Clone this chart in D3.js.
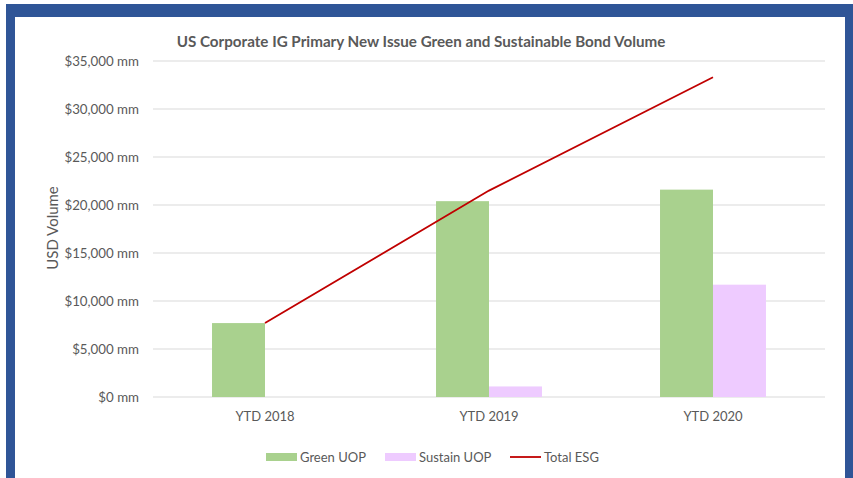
<!DOCTYPE html>
<html>
<head>
<meta charset="UTF-8">
<script src="https://d3js.org/d3.v7.min.js"></script>
<style>
  body { margin: 0; background: #fff; }
  text { font-family: Lato, "Open Sans", sans-serif; fill: #595959; }
</style>
</head>
<body>
<svg id="chart" width="853" height="478"></svg>
<script>
// data
const categories = ["YTD 2018", "YTD 2019", "YTD 2020"];
const seriesNames = ["Green UOP", "Sustain UOP"];
const greenUOP = [7700, 20400, 21600];
const sustainUOP = [0, 1100, 11700];
const totalESG = [7700, 21500, 33300];
const yTicks = [0, 5000, 10000, 15000, 20000, 25000, 30000, 35000];

const colors = { "Green UOP": "#A9D18E", "Sustain UOP": "#EECBFF", "Total ESG": "#C00000" };

const svg = d3.select("#chart");
const W = 853, H = 478;

// blue frame
svg.append("rect").attr("x", 6).attr("y", 4).attr("width", W - 6).attr("height", H)
  .attr("fill", "#2F5597");
svg.append("rect").attr("x", 15).attr("y", 17).attr("width", 830).attr("height", H)
  .attr("fill", "#fff");

const plot = { left: 153, right: 825, top: 61, bottom: 397 };

const x = d3.scaleBand().domain(categories).range([plot.left, plot.right]).padding(0);
const groupW = x.bandwidth() * 0.473;
const xs = d3.scaleBand().domain(seriesNames).range([0, groupW]);
const y = d3.scaleLinear().domain([0, 35000]).range([plot.bottom, plot.top]);

// gridlines
svg.append("g").selectAll("line").data(yTicks).join("line")
  .attr("x1", plot.left).attr("x2", plot.right)
  .attr("y1", d => y(d)).attr("y2", d => y(d))
  .attr("stroke", "#D9D9D9").attr("stroke-width", 1);

// y axis labels
const yAxis = d3.axisLeft(y).tickValues(yTicks).tickSize(0).tickPadding(14)
  .tickFormat(d => "$" + d3.format(",")(d) + " mm");
const gy = svg.append("g").attr("transform", `translate(${plot.left},0)`).call(yAxis);
gy.select(".domain").remove();
gy.selectAll("text").attr("font-size", 13.3).style("font-family", "Lato, sans-serif").attr("fill", "#595959");

// x axis labels
const xAxis = d3.axisBottom(x).tickSize(0).tickPadding(15);
const gx = svg.append("g").attr("transform", `translate(0,${plot.bottom})`).call(xAxis);
gx.select(".domain").remove();
gx.selectAll("text").attr("font-size", 13).style("font-family", "Lato, sans-serif").attr("fill", "#595959");

// bars
const rows = categories.map((c, i) => ({ cat: c, "Green UOP": greenUOP[i], "Sustain UOP": sustainUOP[i] }));
svg.append("g").selectAll("g").data(rows).join("g")
  .attr("transform", d => `translate(${x(d.cat) + (x.bandwidth() - groupW) / 2},0)`)
  .selectAll("rect").data(d => seriesNames.map(s => ({ s, v: d[s] }))).join("rect")
  .attr("x", d => xs(d.s)).attr("width", xs.bandwidth())
  .attr("y", d => y(d.v)).attr("height", d => plot.bottom - y(d.v))
  .attr("fill", d => colors[d.s]);

// total line
const line = d3.line().x((d, i) => x(categories[i]) + x.bandwidth() / 2).y(d => y(d));
svg.append("path").datum(totalESG).attr("d", line)
  .attr("fill", "none").attr("stroke", colors["Total ESG"]).attr("stroke-width", 1.8);

// title
svg.append("text").attr("x", 421).attr("y", 47).attr("text-anchor", "middle")
  .attr("font-size", 15.2).attr("font-weight", "bold")
  .text("US Corporate IG Primary New Issue Green and Sustainable Bond Volume");

// y title
svg.append("text").attr("transform", "translate(58,228) rotate(-90)")
  .attr("text-anchor", "middle").attr("font-size", 15)
  .text("USD Volume");

// legend
const legend = [
  { name: "Green UOP", type: "rect", x: 266 },
  { name: "Sustain UOP", type: "rect", x: 385 },
  { name: "Total ESG", type: "line", x: 510 }
];
const lg = svg.append("g").selectAll("g").data(legend).join("g")
  .attr("transform", d => `translate(${d.x},457)`);
lg.filter(d => d.type === "rect").append("rect")
  .attr("x", 0).attr("y", -4).attr("width", 31).attr("height", 8)
  .attr("fill", d => colors[d.name]);
lg.filter(d => d.type === "line").append("line")
  .attr("x1", 0).attr("x2", 31).attr("y1", 0).attr("y2", 0)
  .attr("stroke", d => colors[d.name]).attr("stroke-width", 1.8);
lg.append("text").attr("x", 34).attr("y", 5).attr("font-size", 13).text(d => d.name);
</script>
</body>
</html>
